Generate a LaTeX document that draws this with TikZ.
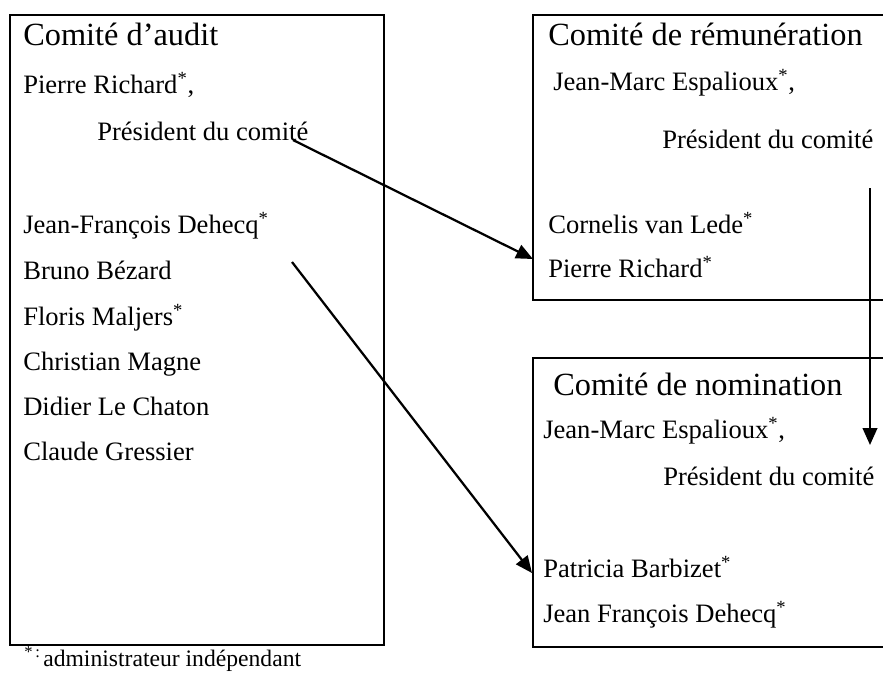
\documentclass[tikz,border=0pt]{standalone}
\usepackage{fontspec}
\setmainfont{Liberation Serif}
\usepackage{tikz}
\usetikzlibrary{arrows.meta,positioning}
\newcommand{\ind}{\textsuperscript{*}}

\begin{document}
\begin{tikzpicture}[x=0.025cm, y=-0.025cm,
    panel/.style={draw=black, line width=1.7pt},
    title/.style={anchor=base west, inner sep=0pt, font=\fontsize{23}{27}\selectfont},
    member/.style={anchor=base west, inner sep=0pt, font=\fontsize{18.9}{22}\selectfont},
    note/.style={anchor=base west, inner sep=0pt, font=\fontsize{16.8}{20}\selectfont},
    arr/.style={-{Triangle[length=0.42cm, width=0.36cm]}, line width=1.6pt}
]
    \useasboundingbox (0,0) rectangle (883,673);
    \clip (0,0) rectangle (883,673);

    % boxes
    \draw[panel] (10,15) rectangle (384,645);
    \draw[panel] (533,15) rectangle (900,300);
    \draw[panel] (533,358) rectangle (900,647);

    % Comite d'audit
    \node[title] (audit) at (23,45) {Comité d’audit};
    \node[member] (a1) at (23,93) {Pierre Richard\ind,};
    \node[member] (a1p) at (97,140) {Président du comité};
    \node[member] (a2) at (23,233) {Jean-François Dehecq\ind};
    \node[member] (a3) at (23,279) {Bruno Bézard};
    \node[member] (a4) at (23,325) {Floris Maljers\ind};
    \node[member] (a5) at (23,370) {Christian Magne};
    \node[member] (a6) at (23,415) {Didier Le Chaton};
    \node[member] (a7) at (23,460) {Claude Gressier};

    % Comite de remuneration
    \node[title] (remu) at (548,45) {Comité de rémunération};
    \node[member] (r1) at (553,90) {Jean-Marc Espalioux\ind,};
    \node[member] (r1p) at (662,148) {Président du comité};
    \node[member] (r2) at (548,233) {Cornelis van Lede\ind};
    \node[member] (r3) at (548,277) {Pierre Richard\ind};

    % Comite de nomination
    \node[title] (nomi) at (553,395) {Comité de nomination};
    \node[member] (n1) at (543,438) {Jean-Marc Espalioux\ind,};
    \node[member] (n1p) at (663,485) {Président du comité};
    \node[member] (n2) at (543,577) {Patricia Barbizet\ind};
    \node[member] (n3) at (543,622) {Jean François Dehecq\ind};

    % footnote
    \node[note, anchor=base east] (star) at (41,666) {\textsuperscript{*\,:}};
    \node[note] (legend) at (43,666) {administrateur indépendant};

    % arrows
    \coordinate (s1) at (293,140);
    \coordinate (e1) at (533,259);
    \coordinate (s2) at (292,262);
    \coordinate (e2) at (532,573);
    \coordinate (s3) at (870,188);
    \coordinate (e3) at (870,445);
    \draw[arr] (s1) -- (e1);
    \draw[arr] (s2) -- (e2);
    \draw[arr] (s3) -- (e3);
\end{tikzpicture}
\end{document}
